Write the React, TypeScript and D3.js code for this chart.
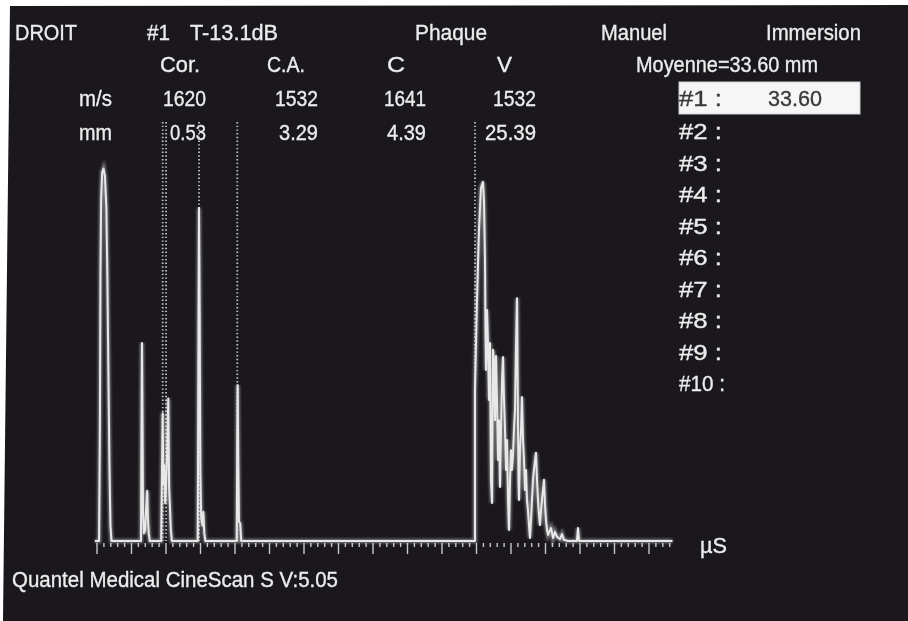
import React from "react";
import * as d3 from "d3";

const W = 908;
const H = 621;

// ---- text data ----
const headerLeft = ["DROIT", "#1", "T-13.1dB"];
const headerRight = ["Phaque", "Manuel", "Immersion"];
const sectionLabels = ["Cor.", "C.A.", "C", "V"];
const velocities = ["1620", "1532", "1641", "1532"];
const lengths = ["0.53", "3.29", "4.39", "25.39"];
const averageLabel = "Moyenne=33.60 mm";
const measurements = ["33.60", "", "", "", "", "", "", "", "", ""];
const footer = "Quantel Medical CineScan S V:5.05";
const unitLabel = "µS";

// ---- signal data (time µs, amplitude %) ----
const gateTimes = [9.52, 10.01, 14.78, 20.33, 54.78];

const probeEcho: [number, number][] = [
  [0.3, 0], [0.42, 30], [0.5, 70], [0.6, 90], [0.75, 97], [0.95, 98], [1.15, 96],
  [1.35, 88], [1.5, 70], [1.65, 45], [1.8, 20], [1.95, 4], [2.1, 0],
];
const artefactEcho: [number, number][] = [
  [6.38, 0], [6.45, 30], [6.52, 52.1], [6.6, 30], [6.67, 8], [6.8, 2],
  [7.0, 3], [7.1, 8], [7.28, 13.2], [7.38, 6], [7.5, 2], [7.65, 0],
];
const corneaEcho: [number, number][] = [
  [9.3, 0], [9.42, 18], [9.52, 33.6], [9.62, 15], [9.75, 20], [9.88, 10],
  [10.0, 14], [10.15, 22], [10.33, 37.5], [10.45, 14], [10.55, 10], [10.7, 3], [10.85, 0],
];
const lensFrontEcho: [number, number][] = [
  [14.6, 0], [14.7, 50], [14.78, 87.6], [14.88, 60], [14.98, 18], [15.1, 6],
  [15.3, 4], [15.41, 7.7], [15.55, 2], [15.7, 0],
];
const lensBackEcho: [number, number][] = [
  [20.25, 0], [20.32, 25], [20.39, 41], [20.48, 20], [20.58, 5], [20.75, 4.7], [20.9, 0],
];
const retinaEcho: [number, number][] = [
  [54.64, 0], [54.78, 0], [54.78, 39.7], [55.07, 63.4], [55.36, 81.8], [55.65, 92.9],
  [55.94, 94.5], [56.09, 89.2], [56.23, 73.9], [56.3, 55.5], [56.38, 45.0], [56.52, 60.8],
  [56.67, 51.6], [56.81, 37.1], [56.96, 52.1], [57.1, 16.1], [57.25, 10.0], [57.39, 50.3],
  [57.54, 47.6], [57.68, 31.8], [57.83, 48.7], [57.97, 37.1], [58.12, 21.3], [58.26, 31.8],
  [58.41, 14.2], [58.55, 29.2], [58.7, 42.4], [58.84, 48.4], [58.99, 37.1], [59.13, 29.2],
  [59.28, 18.7], [59.42, 26.6], [59.57, 10.8], [59.71, 2.9], [59.86, 16.1], [60.0, 23.9],
  [60.14, 18.7], [60.29, 22.6], [60.43, 29.2], [60.58, 34.5], [60.72, 50.3], [60.87, 63.9],
  [61.01, 31.8], [61.09, 16.1], [61.16, 10.8], [61.3, 23.9], [61.45, 29.2], [61.59, 37.9],
  [61.74, 26.6], [61.88, 21.3], [62.03, 13.4], [62.17, 18.7], [62.32, 10.8], [62.46, 8.2],
  [62.61, 4.2], [62.75, 0.8], [62.9, 5.5], [63.04, 10.8], [63.19, 16.1], [63.33, 18.7],
  [63.48, 21.3], [63.62, 23.2], [63.77, 16.1], [63.91, 10.8], [64.06, 6.8], [64.2, 4.2],
  [64.35, 8.2], [64.49, 10.8], [64.64, 13.4], [64.78, 16.1], [64.93, 9.5], [65.07, 5.5],
  [65.22, 2.9], [65.36, 1.6], [65.8, 3.4], [66.09, 0.8], [66.38, 2.4], [66.67, 1.1],
  [67.1, 0.5], [67.39, 1.8], [67.68, 0.3], [68.26, 0], [69.55, 0], [69.71, 3.4], [69.86, 0],
];

const timeStart = -0.3;
const timeEnd = 83.4;

export default function App() {
  const x = d3.scaleLinear().domain([0, 80]).range([97, 649]);
  const y = d3.scaleLinear().domain([0, 100]).range([541, 161]);

  const trace: [number, number][] = [
    [timeStart, 0],
    ...probeEcho,
    ...artefactEcho,
    ...corneaEcho,
    ...lensFrontEcho,
    ...lensBackEcho,
    ...retinaEcho,
    [timeEnd, 0],
  ];
  const line = d3
    .line<[number, number]>()
    .x((d) => x(d[0]))
    .y((d) => y(d[1]));

  const minorTicks = d3.range(0, 84, 1);
  const baseY = y(0);

  const font = "'Liberation Sans Narrow', 'Arial Narrow', 'Liberation Sans', Arial, sans-serif";
  const txt = "#ececec";
  const fs = 22.5;

  const T = (props: any) => (
    <text
      fontFamily={font}
      fontSize={fs}
      fill={txt}
      stroke={props.fill || txt}
      strokeWidth={0.35}
      lengthAdjust="spacingAndGlyphs"
      {...props}
    />
  );

  const colLefts = [160, 267, 387, 497];
  const colWidths = [40, 38, 18, 15];
  const colRights = [206, 318, 426, 536];
  const numWidths = [43, 43, 42, 43];
  const lenWidths = [36, 39, 39, 51];

  const rowCenter = (i: number) => (i === 0 ? 98 : 131 + 31.5 * (i - 1));

  return (
    <div style={{ position: "absolute", left: 0, top: 0 }}>
      <svg width={W} height={H} style={{ display: "block" }}>
        <defs>
          <filter id="soft" x="-5%" y="-5%" width="110%" height="110%">
            <feGaussianBlur stdDeviation="0.45" />
          </filter>
          <filter id="glow" x="-5%" y="-5%" width="110%" height="110%">
            <feGaussianBlur stdDeviation="0.8" />
          </filter>
        </defs>
        <rect x={0} y={0} width={W} height={H} fill="#ffffff" />
        <polygon points="10,6 908,5 908,621 3,621" fill="#1b181d" />

        <g filter="url(#soft)">
          {/* header row 1 */}
          <T x={15} y={40} textLength={62}>{headerLeft[0]}</T>
          <T x={147} y={40} textLength={23}>{headerLeft[1]}</T>
          <T x={190} y={40} textLength={88}>{headerLeft[2]}</T>
          <T x={415} y={40} textLength={72}>{headerRight[0]}</T>
          <T x={601} y={40} textLength={66}>{headerRight[1]}</T>
          <T x={766} y={40} textLength={95}>{headerRight[2]}</T>

          {/* row 2: section labels */}
          {sectionLabels.map((s, i) => (
            <T key={s + i} x={colLefts[i]} y={72} textLength={colWidths[i]}>
              {s}
            </T>
          ))}
          <T x={636} y={72} textLength={182}>{averageLabel}</T>

          {/* row 3: velocities */}
          <T x={79} y={106} textLength={33}>m/s</T>
          {velocities.map((v, i) => (
            <T key={"v" + i} x={colRights[i] - numWidths[i]} y={106} textLength={numWidths[i]}>
              {v}
            </T>
          ))}
          {/* row 4: lengths */}
          <T x={79} y={140} textLength={33}>mm</T>
          {lengths.map((v, i) => (
            <T key={"l" + i} x={colRights[i] - lenWidths[i]} y={140} textLength={lenWidths[i]}>
              {v}
            </T>
          ))}

          {/* measurement list */}
          <rect x={679} y={82} width={181} height={32} fill="#f6f6f6" stroke="#cfcfcf" strokeWidth={1} />
          {measurements.map((m, i) => (
            <g key={"m" + i}>
              <T
                x={679}
                y={rowCenter(i) + 8}
                textLength={i === 9 ? 46 : 43}
                fill={i === 0 ? "#3a3a3a" : txt}
              >
                {`#${i + 1} :`}
              </T>
              {m && (
                <T x={768} y={rowCenter(i) + 8} textLength={54} fill="#3a3a3a">
                  {m}
                </T>
              )}
            </g>
          ))}

          {/* footer & unit */}
          <T x={12} y={587} textLength={326}>{footer}</T>
          <T x={700} y={553} textLength={27}>{unitLabel}</T>
        </g>

        {/* gates */}
        <g filter="url(#soft)">
          {gateTimes.map((g, i) => (
            <line
              key={"g" + i}
              x1={x(g)}
              x2={x(g)}
              y1={122}
              y2={baseY}
              stroke="#c4c4c4"
              strokeWidth={1.8}
              strokeDasharray="1.4 2.3"
            />
          ))}
        </g>

        {/* axis ticks */}
        <g filter="url(#soft)">
          {minorTicks.map((t) => (
            <line
              key={"t" + t}
              x1={x(t)}
              x2={x(t)}
              y1={baseY + 2}
              y2={baseY + (t % 5 === 0 ? 13 : 6)}
              stroke="#c8c8c8"
              strokeWidth={1.4}
            />
          ))}
        </g>

        {/* signal */}
        <path d={line(trace) || ""} fill="none" stroke="#ffffff" strokeOpacity={0.4} strokeWidth={4.5} filter="url(#glow)" />
        <path d={line(trace) || ""} fill="none" stroke="#e8e8e8" strokeWidth={2} strokeLinejoin="round" filter="url(#soft)" />
      </svg>
    </div>
  );
}
